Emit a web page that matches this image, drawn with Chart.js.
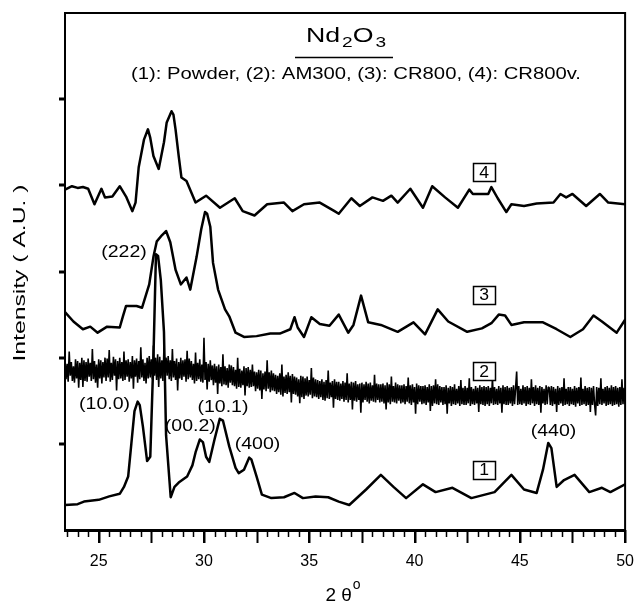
<!DOCTYPE html>
<html>
<head>
<meta charset="utf-8">
<script src="https://cdn.jsdelivr.net/npm/chart.js@4.4.1/dist/chart.umd.min.js"></script>
<style>
  html, body { margin: 0; padding: 0; background: #ffffff; }
  #wrap { width: 643px; height: 607px; position: relative; }
</style>
</head>
<body>
<div id="wrap"><canvas id="c" width="643" height="607"></canvas></div>
<script>
// ---------------- DATA ----------------
const xTickLabels = [25, 30, 35, 40, 45, 50];
const yTickValues = [1, 2, 3, 4, 5];

// (1) Powder
const powderX = [23.4,24.0,24.3,25.0,25.5,26.0,26.2,26.4,26.55,26.7,26.85,26.95,27.1,27.3,27.45,27.6,27.72,27.82,27.95,28.1,28.2,28.42,28.6,28.8,29.2,29.45,29.6,29.8,29.95,30.1,30.25,30.5,30.75,30.9,31.2,31.5,31.65,31.9,32.15,32.25,32.5,32.75,33.2,33.8,34.3,34.7,35.3,35.9,36.4,36.9,37.7,38.4,39.0,39.6,40.4,41.0,41.8,42.7,43.8,44.6,45.2,45.8,46.1,46.35,46.5,46.75,47.1,47.6,48.3,48.9,49.3,50.0];
const powderY = [0.29,0.30,0.33,0.35,0.39,0.42,0.50,0.62,1.00,1.38,1.49,1.45,1.20,0.80,0.85,2.00,3.20,3.18,2.90,2.30,1.10,0.38,0.50,0.55,0.62,0.75,0.90,1.05,1.02,0.85,0.79,1.05,1.29,1.27,0.97,0.72,0.66,0.70,0.84,0.82,0.62,0.41,0.37,0.38,0.43,0.37,0.39,0.38,0.33,0.29,0.47,0.64,0.50,0.37,0.53,0.44,0.49,0.37,0.44,0.64,0.47,0.43,0.70,1.01,0.95,0.50,0.58,0.64,0.44,0.49,0.44,0.53];

// (2) AM300 : noisy scan, sampled every 0.05 degree from 23.40 to 50.00 (one row = 1 degree)
const am300Start = 23.4;
const am300Step = 0.05;
const am300Y = [
  1.97,1.75,1.93,1.72,2.07,1.79,1.95,1.73,1.90,1.71,1.98,1.76,1.96,1.65,1.94,1.74,2.00,1.66,1.97,1.73,
  1.95,1.72,1.99,1.78,1.94,1.73,2.10,1.75,1.96,1.71,1.92,1.65,1.98,1.76,1.97,1.70,1.95,1.77,2.00,1.73,
  1.99,1.77,2.09,1.72,1.94,1.74,2.01,1.79,1.98,1.62,1.96,1.75,2.00,1.76,1.95,1.73,2.07,1.74,1.97,1.78,
  1.98,1.72,1.95,1.76,2.02,1.64,1.97,1.78,1.99,1.71,1.96,1.75,2.12,1.77,1.98,1.73,1.94,1.70,2.00,1.76,
  2.02,1.77,1.98,1.75,2.14,1.79,2.00,1.74,2.04,1.66,2.01,1.76,1.97,1.73,2.12,1.77,2.00,1.79,2.02,1.75,
  1.97,1.73,2.10,1.77,1.96,1.74,1.99,1.62,1.95,1.76,2.00,1.74,1.97,1.78,1.98,1.72,2.08,1.75,1.99,1.77,
  1.96,1.74,1.93,1.70,2.06,1.73,1.94,1.75,1.98,1.72,1.92,1.71,2.23,1.74,1.95,1.63,1.93,1.72,1.97,1.74,
  1.91,1.68,1.93,1.71,1.90,1.58,1.92,1.70,1.89,1.67,2.04,1.69,1.90,1.68,1.88,1.65,1.92,1.71,1.91,1.68,
  1.89,1.67,1.86,1.64,2.00,1.66,1.87,1.65,1.85,1.68,1.90,1.56,1.88,1.67,1.89,1.65,1.86,1.66,1.92,1.67,
  1.84,1.61,1.83,1.64,1.86,1.62,1.85,1.52,1.82,1.63,1.84,1.61,1.97,1.64,1.83,1.60,1.85,1.62,1.82,1.61,
  1.80,1.58,1.79,1.60,1.82,1.57,1.92,1.55,1.78,1.59,1.80,1.58,1.83,1.60,1.79,1.48,1.81,1.58,1.78,1.57,
  1.77,1.55,1.75,1.47,1.79,1.54,1.78,1.52,1.76,1.56,1.78,1.55,1.74,1.57,1.88,1.53,1.77,1.55,1.75,1.54,
  1.74,1.52,1.73,1.54,1.75,1.51,1.72,1.50,1.74,1.53,1.85,1.52,1.71,1.54,1.73,1.42,1.75,1.52,1.72,1.51,
  1.72,1.50,1.70,1.52,1.73,1.49,1.71,1.51,1.82,1.48,1.70,1.51,1.72,1.40,1.71,1.50,1.73,1.49,1.69,1.51,
  1.70,1.36,1.71,1.48,1.69,1.51,1.72,1.49,1.70,1.47,1.71,1.50,1.68,1.49,1.80,1.48,1.70,1.51,1.69,1.48,
  1.69,1.49,1.70,1.47,1.68,1.40,1.71,1.48,1.69,1.46,1.78,1.49,1.67,1.48,1.71,1.47,1.69,1.50,1.68,1.47,
  1.68,1.48,1.69,1.46,1.67,1.49,1.77,1.47,1.68,1.45,1.69,1.48,1.66,1.35,1.70,1.46,1.68,1.49,1.67,1.46,
  1.67,1.47,1.68,1.45,1.66,1.48,1.69,1.38,1.67,1.44,1.68,1.47,1.75,1.46,1.69,1.45,1.67,1.48,1.66,1.45,
  1.66,1.46,1.68,1.35,1.65,1.47,1.67,1.44,1.66,1.46,1.69,1.45,1.64,1.47,1.67,1.44,1.74,1.46,1.65,1.45,
  1.67,1.45,1.65,1.47,1.76,1.44,1.66,1.46,1.64,1.45,1.67,1.47,1.65,1.37,1.68,1.46,1.66,1.45,1.67,1.44,
  1.66,1.46,1.67,1.44,1.65,1.47,1.77,1.45,1.66,1.46,1.64,1.45,1.67,1.47,1.65,1.36,1.68,1.46,1.66,1.45,
  1.67,1.45,1.65,1.47,1.66,1.44,1.68,1.46,1.65,1.84,1.45,1.67,1.46,1.64,1.45,1.68,1.47,1.66,1.44,1.67,
  1.46,1.65,1.45,1.75,1.47,1.66,1.44,1.68,1.46,1.65,1.45,1.67,1.36,1.66,1.47,1.64,1.45,1.68,1.46,1.66,
  1.65,1.45,1.67,1.44,1.66,1.46,1.64,1.37,1.67,1.45,1.65,1.47,1.66,1.44,1.76,1.45,1.64,1.46,1.66,1.44,
  1.66,1.46,1.64,1.45,1.67,1.43,1.65,1.47,1.66,1.44,1.77,1.45,1.64,1.46,1.67,1.44,1.65,1.45,1.66,1.37,
  1.65,1.45,1.67,1.46,1.33,1.66,1.44,1.65,1.46,1.76,1.45,1.64,1.47,1.66,1.44,1.67,1.45,1.65,1.46,1.68,
  1.44,1.66,1.45,1.67,1.46,1.65,1.43,1.66,1.45,1.75,1.46,1.65,1.47
];

// (3) CR800
const cr800X = [23.4,23.8,24.25,24.6,24.95,25.4,26.0,26.15,26.3,26.8,27.06,27.4,27.6,27.76,28.0,28.2,28.4,28.65,28.9,29.17,29.35,29.65,29.87,30.05,30.15,30.3,30.43,30.67,31.0,31.2,31.5,31.9,32.5,33.15,33.6,34.1,34.3,34.45,34.75,35.1,35.5,35.96,36.4,36.85,37.1,37.46,37.8,38.4,39.2,39.95,40.5,41.1,41.6,42.5,43.2,43.65,44.0,44.3,44.6,45.2,46.1,46.75,47.4,48.0,48.5,48.9,49.6,50.0];
const cr800Y = [2.53,2.42,2.33,2.36,2.29,2.36,2.35,2.48,2.60,2.60,2.58,2.85,3.17,3.35,3.42,3.47,3.34,3.02,2.85,2.93,2.79,3.17,3.49,3.69,3.67,3.52,3.10,2.79,2.56,2.48,2.29,2.24,2.25,2.28,2.28,2.33,2.47,2.35,2.24,2.47,2.39,2.37,2.50,2.29,2.38,2.72,2.41,2.38,2.30,2.41,2.27,2.56,2.42,2.30,2.34,2.40,2.50,2.49,2.38,2.41,2.41,2.33,2.24,2.33,2.49,2.42,2.29,2.44];

// (4) CR800v
const cr800vX = [23.4,23.73,24.0,24.25,24.5,24.8,25.13,25.3,25.65,26.0,26.3,26.6,26.75,26.9,27.15,27.34,27.45,27.6,27.85,28.1,28.23,28.46,28.55,28.65,28.8,28.93,29.17,29.6,30.1,30.76,31.46,31.84,32.4,33.0,33.8,34.2,34.75,35.5,36.2,36.4,37.0,37.4,38.0,38.5,38.9,39.2,39.8,40.4,40.84,41.45,42.06,42.6,42.77,43.5,43.65,43.95,44.36,44.6,45.2,45.8,46.6,46.93,47.2,47.5,48.15,48.8,49.2,50.0];
const cr800vY = [3.95,3.99,3.97,3.98,3.96,3.78,3.96,3.86,3.87,3.99,3.87,3.70,3.80,4.21,4.53,4.65,4.55,4.34,4.19,4.50,4.73,4.86,4.82,4.65,4.34,4.09,4.05,3.80,3.88,3.74,3.85,3.70,3.65,3.78,3.80,3.70,3.78,3.80,3.70,3.67,3.85,3.76,3.86,3.82,3.88,3.80,3.96,3.74,3.99,3.86,3.74,3.95,3.90,3.90,3.98,3.85,3.69,3.78,3.76,3.79,3.80,3.90,3.86,3.90,3.76,3.90,3.80,3.78];

// Peak annotations and curve number boxes (data coordinates)
const peakLabels = ["(10.0)", "(00.2)", "(10.1)", "(400)", "(440)", "(222)"];
const peakLabelX = [25.28, 29.35, 30.9, 32.54, 46.6, 26.2];
const peakLabelY = [1.45, 1.20, 1.42, 0.99, 1.14, 3.22];
const curveNumbers = ["1", "2", "3", "4"];
const curveNumberX = [43.3, 43.3, 43.3, 43.3];
const curveNumberY = [0.70, 1.84, 2.73, 4.15];

const titleMain = ["Nd", "2", "O", "3"];
const subtitle = "(1): Powder, (2): AM300, (3): CR800, (4): CR800v.";
const yTitle = "Intensity ( A.U. )";
const xTitle = ["2 \u03B8", "o"];

// ---------------- build ----------------
const zip = (xs, ys) => xs.map((x, i) => ({ x: x, y: ys[i] }));
const am300Data = am300Y.map((y, i) => ({ x: +(am300Start + i * am300Step).toFixed(2), y: y }));

const FONT = "'Liberation Sans', Arial, sans-serif";

// draw text horizontally stretched (to mimic the wider bitmap font of the original)
function stretchText(ctx, text, x, y, font, sx, align) {
  ctx.save();
  ctx.font = font;
  ctx.translate(x, y);
  ctx.scale(sx, 1);
  ctx.textAlign = align || 'center';
  ctx.fillText(text, 0, 0);
  ctx.restore();
}

const decor = {
  id: 'decor',
  afterDraw(chart) {
    const ctx = chart.ctx;
    const xs = chart.scales.x, ys = chart.scales.y;
    const a = chart.chartArea;
    ctx.save();
    ctx.strokeStyle = '#000';
    ctx.fillStyle = '#000';
    // frame top and right
    ctx.lineWidth = 2;
    ctx.beginPath();
    ctx.moveTo(a.left, a.top); ctx.lineTo(a.right, a.top); ctx.lineTo(a.right, a.bottom);
    ctx.stroke();
    // x minor / major ticks
    for (let v = 23.5; v <= 50.001; v += 0.5) {
      const px = Math.round(xs.getPixelForValue(v)) + 0.5;
      const isMajor = Math.abs(v / 2.5 - Math.round(v / 2.5)) < 1e-6;
      ctx.lineWidth = isMajor ? 2 : 1.5;
      ctx.beginPath();
      ctx.moveTo(px, a.bottom);
      ctx.lineTo(px, a.bottom + (isMajor ? 13 : 7));
      ctx.stroke();
    }
    // y ticks
    ctx.lineWidth = 3;
    yTickValues.forEach(v => {
      const py = Math.round(ys.getPixelForValue(v));
      ctx.beginPath();
      ctx.moveTo(a.left - 6, py); ctx.lineTo(a.left, py);
      ctx.stroke();
    });
    // title  Nd2O3 (stretched to ~80 px)
    ctx.textBaseline = 'alphabetic';
    const bigF = '21px ' + FONT, subF = '15px ' + FONT;
    ctx.font = bigF; const wNd = ctx.measureText(titleMain[0]).width, wO = ctx.measureText(titleMain[2]).width;
    ctx.font = subF; const w2 = ctx.measureText(titleMain[1]).width, w3 = ctx.measureText(titleMain[3]).width;
    const tw = wNd + w2 + wO + w3 + 3;
    const tsx = 80 / tw;
    ctx.save();
    ctx.translate(346 - 40, 42);
    ctx.scale(tsx, 1);
    let tx = 0;
    ctx.font = bigF; ctx.fillText(titleMain[0], tx, 0); tx += wNd + 1.5;
    ctx.font = subF; ctx.fillText(titleMain[1], tx, 5); tx += w2;
    ctx.font = bigF; ctx.fillText(titleMain[2], tx, 0); tx += wO + 1.5;
    ctx.font = subF; ctx.fillText(titleMain[3], tx, 5);
    ctx.restore();
    ctx.lineWidth = 1.5;
    ctx.beginPath(); ctx.moveTo(295, 57.5); ctx.lineTo(393, 57.5); ctx.stroke();
    // subtitle stretched to ~450 px
    const subFont = '16px ' + FONT;
    ctx.font = subFont;
    const sw = ctx.measureText(subtitle).width;
    stretchText(ctx, subtitle, 356, 79, subFont, 450 / sw, 'center');
    // peak labels
    ctx.textBaseline = 'middle';
    const pf = '16px ' + FONT;
    peakLabels.forEach((t, i) => {
      stretchText(ctx, t, xs.getPixelForValue(peakLabelX[i]), ys.getPixelForValue(peakLabelY[i]), pf, 1.22, 'center');
    });
    // curve number boxes
    curveNumbers.forEach((t, i) => {
      const cx = xs.getPixelForValue(curveNumberX[i]);
      const cy = ys.getPixelForValue(curveNumberY[i]);
      ctx.fillStyle = '#fff';
      ctx.fillRect(cx - 11, cy - 9, 22, 18);
      ctx.lineWidth = 1.5;
      ctx.strokeRect(Math.round(cx - 11) + 0.5, Math.round(cy - 9) + 0.5, 22, 18);
      ctx.fillStyle = '#000';
      stretchText(ctx, t, cx, cy + 1, '16px ' + FONT, 1.1, 'center');
    });
    // x axis title: 2 theta with superscript o
    ctx.textBaseline = 'alphabetic';
    ctx.font = '19px ' + FONT;
    const wx = ctx.measureText(xTitle[0]).width;
    ctx.font = '14px ' + FONT;
    const wo = ctx.measureText(xTitle[1]).width;
    const xx = 343 - (wx + wo + 1) / 2;
    ctx.textAlign = 'left';
    ctx.font = '19px ' + FONT;
    ctx.fillText(xTitle[0], xx, 601);
    ctx.font = '14px ' + FONT;
    ctx.fillText(xTitle[1], xx + wx + 1, 589);
    // y axis title, rotated, stretched to ~177 px
    ctx.save();
    ctx.translate(21, 273);
    ctx.rotate(-Math.PI / 2);
    const yf = '16px ' + FONT;
    ctx.font = yf;
    const yw = ctx.measureText(yTitle).width;
    ctx.textBaseline = 'middle';
    stretchText(ctx, yTitle, 0, 0, yf, 177 / yw, 'center');
    ctx.restore();
    ctx.restore();
  }
};

const lineDs = (data, w, join) => ({
  data: data, borderColor: '#000', backgroundColor: '#000', borderWidth: w,
  pointRadius: 0, tension: 0, fill: false, borderJoinStyle: join || 'round', borderCapStyle: 'round'
});

new Chart(document.getElementById('c'), {
  type: 'line',
  data: {
    datasets: [
      lineDs(zip(powderX, powderY), 2.5),
      lineDs(am300Data, 1.6, 'bevel'),
      lineDs(zip(cr800X, cr800Y), 2.5),
      lineDs(zip(cr800vX, cr800vY), 2.5)
    ]
  },
  options: {
    responsive: false,
    devicePixelRatio: 1,
    animation: false,
    layout: { padding: { top: 13, right: 9, left: 0, bottom: 0 } },
    plugins: { legend: { display: false }, tooltip: { enabled: false }, title: { display: false } },
    scales: {
      x: {
        type: 'linear', min: 23.4, max: 50,
        afterBuildTicks: (axis) => { axis.ticks = xTickLabels.map(v => ({ value: v })); },
        afterFit: (s) => { s.height = 77; },
        ticks: { color: '#000', font: { family: FONT, size: 16 }, padding: 9, maxRotation: 0, autoSkip: false },
        grid: { display: true, drawOnChartArea: false, drawTicks: true, tickLength: 13, color: '#000', lineWidth: 2 },
        border: { display: true, color: '#000', width: 3 }
      },
      y: {
        type: 'linear', min: 0, max: 6,
        afterFit: (s) => { s.width = 65; },
        ticks: { display: false },
        grid: { display: false },
        border: { display: true, color: '#000', width: 2 }
      }
    }
  },
  plugins: [decor]
});
</script>
</body>
</html>
